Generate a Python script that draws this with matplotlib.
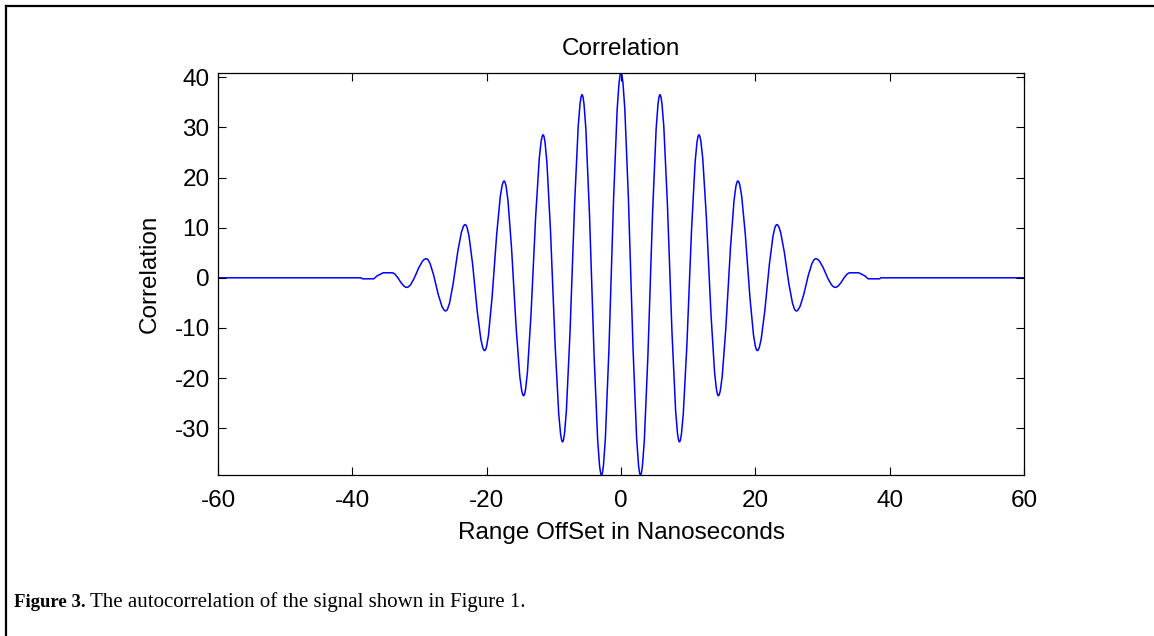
"""
Autocorrelation plot (MATLAB style) with a figure caption underneath.
"""

import matplotlib
matplotlib.use('Agg')
import matplotlib.pyplot as plt
from matplotlib.path import Path
from matplotlib.patches import PathPatch
from matplotlib.lines import Line2D

# Flat tails and the small step before the oscillation (ns, correlation)
left_tail_x = [-60, -38.7, -38.5, -36.8, -36.3, -35.4, -34.1]
left_tail_y = [0, 0, -0.2, -0.2, 0.4, 1.0, 1.0]
right_tail_x = [34.1, 35.4, 36.3, 36.8, 38.5, 38.7, 60]
right_tail_y = [1.0, 1.0, 0.4, -0.2, -0.2, 0, 0]

# Peaks and troughs of the oscillation
extrema_x = [-31.9, -29.0, -26.1, -23.2, -20.3, -17.4, -14.5, -11.6, -8.7, -5.8, -2.9,
             0.0,
             2.9, 5.8, 8.7, 11.6, 14.5, 17.4, 20.3, 23.2, 26.1, 29.0, 31.9]
extrema_y = [-1.9, 3.8, -6.6, 10.6, -14.5, 19.3, -23.5, 28.5, -32.7, 36.5, -39.33,
             40.85,
             -39.33, 36.5, -32.7, 28.5, -23.5, 19.3, -14.5, 10.6, -6.6, 3.8, -1.9]

x_ticks = [-60, -40, -20, 0, 20, 40, 60]
y_ticks = [-30, -20, -10, 0, 10, 20, 30, 40]

W, H = 1154, 636
fig = plt.figure(figsize=(W / 100, H / 100), dpi=100)
ax = fig.add_axes([218 / W, 1 - 475 / H, (1024 - 218) / W, (475 - 73) / H])

# build the curve: straight pieces for the tails, cubic arcs between extrema
# (control handles at 1 - 2/pi of the span give a half-cosine shape)
k = 1 - 2 / 3.141592653589793
verts = [(left_tail_x[0], left_tail_y[0])]
codes = [Path.MOVETO]
for x, y in zip(left_tail_x[1:], left_tail_y[1:]):
    verts.append((x, y))
    codes.append(Path.LINETO)
knots = [(left_tail_x[-1], left_tail_y[-1])] + list(zip(extrema_x, extrema_y)) + \
        [(right_tail_x[0], right_tail_y[0])]
for (x0, y0), (x1, y1) in zip(knots[:-1], knots[1:]):
    dx = x1 - x0
    verts += [(x0 + k * dx, y0), (x1 - k * dx, y1), (x1, y1)]
    codes += [Path.CURVE4] * 3
for x, y in zip(right_tail_x[1:], right_tail_y[1:]):
    verts.append((x, y))
    codes.append(Path.LINETO)

ax.add_patch(PathPatch(Path(verts, codes), fill=False, edgecolor='#0000ff', lw=1.1))

ax.set_xlim(-60, 60)
ax.set_ylim(-39.33, 40.85)
ax.set_xticks(x_ticks)
ax.set_yticks(y_ticks)
ax.set_xticklabels([str(v) for v in x_ticks])
ax.set_yticklabels([str(v) for v in y_ticks])

font = 'Liberation Sans'
ax.tick_params(direction='in', top=True, right=True, length=6, width=0.8,
               labelsize=17.5)
ax.tick_params(axis='x', pad=11)
ax.tick_params(axis='y', pad=6)
for lab in ax.get_xticklabels() + ax.get_yticklabels():
    lab.set_fontfamily(font)
for sp in ax.spines.values():
    sp.set_linewidth(0.9)

ax.set_title('Correlation', fontsize=17.5, family=font, pad=13)
ax.set_xlabel('Range OffSet in Nanoseconds', fontsize=17.5, family=font, labelpad=7)
ax.set_ylabel('Correlation', fontsize=17.5, family=font, labelpad=10)

# page frame (top and left edges)
fig.add_artist(Line2D([6 / W, 1.0], [1 - 5.5 / H, 1 - 5.5 / H], color='black',
                      lw=1.6, transform=fig.transFigure))
fig.add_artist(Line2D([6 / W, 6 / W], [0.0, 1 - 5.5 / H], color='black',
                      lw=1.6, transform=fig.transFigure))

# caption
fig.text(14 / W, 1 - 607 / H, 'Figure 3.', family='Liberation Serif',
         fontweight='bold', fontsize=13.5, va='baseline')
fig.text(90 / W, 1 - 607 / H, 'The autocorrelation of the signal shown in Figure 1.',
         family='Liberation Serif', fontsize=15, va='baseline')

fig.savefig('out.png', dpi=100)
